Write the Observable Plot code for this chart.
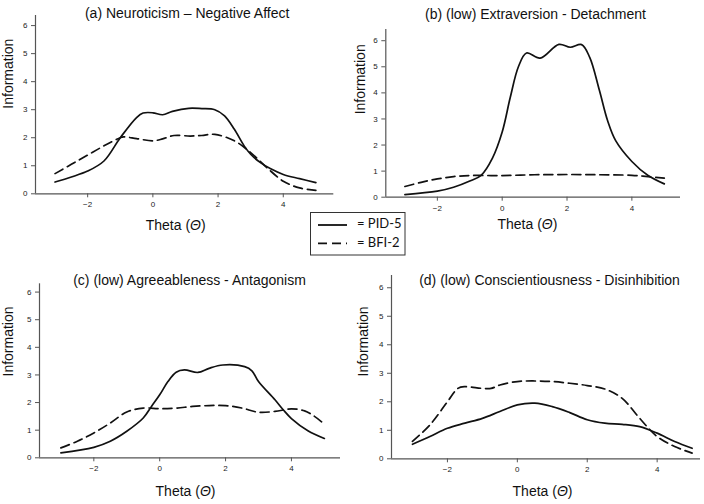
<!DOCTYPE html>
<html><head><meta charset="utf-8">
<script src="https://cdn.jsdelivr.net/npm/d3@7"></script>
<script src="https://cdn.jsdelivr.net/npm/@observablehq/plot@0.6"></script>
<style>
body{margin:0;background:#fff;}
#chart{position:relative;width:704px;height:504px;overflow:hidden;background:#fff;}
.panel{position:absolute;}
</style></head><body><div id="chart"></div>
<script>
// ---- data ----
const panelTitles = [
  "(a) Neuroticism – Negative Affect",
  "(b) (low) Extraversion - Detachment",
  "(c) (low) Agreeableness - Antagonism",
  "(d) (low) Conscientiousness - Disinhibition"
];
const seriesNames = ["PID-5", "BFI-2"];
const xTicks = [-2, 0, 2, 4];
const yTicks = [0, 1, 2, 3, 4, 5, 6];
const xLabel = "Theta (Θ)";
const yLabel = "Information";

// (a) Neuroticism
const thetaA_PID = [-3, -2.5, -2, -1.5, -1, -0.5, -0.3, 0, 0.3, 0.6, 1.1, 1.5, 1.9, 2.2, 2.5, 2.8, 3, 3.3, 3.6, 4, 4.5, 5];
const infoA_PID  = [0.42, 0.6, 0.81, 1.17, 2.0, 2.72, 2.88, 2.89, 2.82, 2.94, 3.05, 3.04, 3.0, 2.78, 2.3, 1.71, 1.41, 1.11, 0.9, 0.69, 0.54, 0.4];
const thetaA_BFI = [-3, -2.5, -2, -1.5, -1, -0.9, -0.5, 0, 0.3, 0.65, 1.15, 1.5, 1.9, 2.5, 3, 3.5, 4, 4.5, 5];
const infoA_BFI  = [0.72, 1.05, 1.38, 1.71, 2.0, 2.03, 1.97, 1.89, 1.96, 2.08, 2.06, 2.08, 2.12, 1.89, 1.47, 0.93, 0.45, 0.21, 0.12];

// (b) Extraversion
const thetaB_PID = [-3, -2, -1.5, -1, -0.65, -0.3, 0, 0.25, 0.5, 0.75, 1.17, 1.75, 2.1, 2.45, 2.7, 3, 3.25, 3.5, 4, 4.5, 5];
const infoB_PID  = [0.1, 0.23, 0.38, 0.62, 0.84, 1.5, 2.5, 3.83, 5.0, 5.53, 5.33, 5.86, 5.75, 5.85, 5.36, 4.09, 2.94, 2.17, 1.37, 0.83, 0.51];
const thetaB_BFI = [-3, -2.5, -2, -1.5, -1, 0, 1, 2, 3, 4, 4.5, 5];
const infoB_BFI  = [0.41, 0.57, 0.7, 0.79, 0.83, 0.83, 0.86, 0.87, 0.86, 0.84, 0.79, 0.73];

// (c) Agreeableness
const thetaC_PID = [-3, -2, -1.5, -1, -0.5, -0.25, 0, 0.25, 0.5, 0.75, 1.16, 1.5, 1.92, 2.58, 2.8, 3, 3.5, 3.75, 4, 4.5, 5];
const infoC_PID  = [0.18, 0.38, 0.6, 0.96, 1.44, 1.86, 2.28, 2.76, 3.1, 3.18, 3.09, 3.24, 3.36, 3.3, 3.15, 2.76, 2.1, 1.74, 1.42, 0.98, 0.7];
const thetaC_BFI = [-3, -2.5, -2, -1.5, -1, -0.5, 0, 0.5, 1, 1.5, 2, 2.5, 3, 3.5, 4, 4.4, 4.7, 5];
const infoC_BFI  = [0.36, 0.6, 0.9, 1.26, 1.66, 1.8, 1.78, 1.8, 1.86, 1.89, 1.89, 1.8, 1.65, 1.68, 1.77, 1.7, 1.5, 1.22];

// (d) Conscientiousness
const thetaD_PID = [-3, -2.5, -2, -1.5, -1, -0.5, 0, 0.5, 1, 1.5, 2, 2.5, 3, 3.5, 4, 4.5, 5];
const infoD_PID  = [0.51, 0.78, 1.07, 1.25, 1.42, 1.66, 1.89, 1.95, 1.83, 1.62, 1.37, 1.25, 1.21, 1.13, 0.9, 0.61, 0.37];
const thetaD_BFI = [-3, -2.5, -2, -1.7, -1.5, -1, -0.75, -0.5, 0, 0.5, 1, 1.5, 2, 2.5, 3, 3.5, 4, 4.5, 5];
const infoD_BFI  = [0.61, 1.19, 2.0, 2.47, 2.53, 2.47, 2.47, 2.59, 2.71, 2.73, 2.71, 2.65, 2.57, 2.45, 2.12, 1.42, 0.78, 0.43, 0.2];

// ---- layout ----
const layouts = [
  {left:0,   top:0,   w:352, h:250, mL:35,   mR:18.7, mT:15,   mB:56.7, xd:[-3.6,5.55],  yd:[0,6.36], t:[2.5,-7.7],  xl:[-9,35.7],  yl:[-26.5,4]},
  {left:352, top:0,   w:352, h:250, mL:33.3, mR:24,   mT:29,   mB:53.3, xd:[-3.59,5.5],  yd:[0,6.43], t:[2.3,-20.7], xl:[-5.7,31.3], yl:[-25.3,1]},
  {left:0,   top:250, w:352, h:254, mL:39,   mR:12,   mT:33.3, mB:46.7, xd:[-3.65,5.49], yd:[0,6.3],  t:[-0.5,-8.3], xl:[-4.5,37.7], yl:[-30.5,5.7]},
  {left:352, top:250, w:352, h:254, mL:39,   mR:4,    mT:25,   mB:45.7, xd:[-3.6,5.24],  yd:[0,6.43], t:[3.5,0],     xl:[-3.5,36.7], yl:[-28,9.3]}
];
const series = [
  [[thetaA_PID, infoA_PID], [thetaA_BFI, infoA_BFI]],
  [[thetaB_PID, infoB_PID], [thetaB_BFI, infoB_BFI]],
  [[thetaC_PID, infoC_PID], [thetaC_BFI, infoC_BFI]],
  [[thetaD_PID, infoD_PID], [thetaD_BFI, infoD_BFI]]
];
const toRows = ([th, inf], name) => th.map((t, i) => ({theta: t, info: inf[i], series: name}));

const chart = document.getElementById("chart");
const font = "'Liberation Sans', Arial, Helvetica, sans-serif";
const axisColor = "#555";
const fmtTick = d => d < 0 ? "\u2212" + Math.abs(d) : String(d);

layouts.forEach((L, k) => {
  const pid = toRows(series[k][0], seriesNames[0]);
  const bfi = toRows(series[k][1], seriesNames[1]);
  const p = Plot.plot({
    width: L.w, height: L.h,
    marginLeft: L.mL, marginRight: L.mR, marginTop: L.mT, marginBottom: L.mB,
    x: {domain: L.xd},
    y: {domain: L.yd},
    style: {fontFamily: font, fontSize: "8px", background: "white", color: "#222"},
    marks: [
      Plot.ruleY([0], {x1: L.xd[0], x2: L.xd[1], stroke: axisColor, strokeWidth: 1.2}),
      Plot.ruleX([L.xd[0]], {y1: 0, y2: L.yd[1], stroke: axisColor, strokeWidth: 1.2}),
      Plot.axisX({ticks: xTicks, tickFormat: fmtTick, tickSize: 4, tickPadding: 4, label: null, stroke: axisColor, fill: "#222"}),
      Plot.axisY({ticks: yTicks, tickFormat: fmtTick, tickSize: 4, tickPadding: 4, label: null, stroke: axisColor, fill: "#222"}),
      Plot.line(bfi, {x: "theta", y: "info", curve: "catmull-rom", stroke: "#111", strokeWidth: 1.7, strokeDasharray: "9,5"}),
      Plot.line(pid, {x: "theta", y: "info", curve: "catmull-rom", stroke: "#111", strokeWidth: 1.7}),
      Plot.text([panelTitles[k]], {text: d => d, frameAnchor: "top", dx: L.t[0], dy: L.t[1], fontSize: 14, fill: "#111"}),
      Plot.text([xLabel], {text: d => d, frameAnchor: "bottom", dx: L.xl[0], dy: L.xl[1], fontSize: 14, fill: "#111"}),
      Plot.text([yLabel], {text: d => d, frameAnchor: "left", dx: L.yl[0], dy: L.yl[1], rotate: -90, fontSize: 14, fill: "#111"})
    ]
  });
  p.classList.add("panel");
  p.style.left = L.left + "px";
  p.style.top = L.top + "px";
  chart.appendChild(p);
  // italic theta
  d3.select(p).selectAll("text").filter(function(){ return this.textContent === xLabel; })
    .each(function(){
      const t = d3.select(this);
      t.text(null);
      t.append("tspan").text("Theta (");
      t.append("tspan").attr("font-style", "italic").text("Θ");
      t.append("tspan").text(")");
    });
});

// ---- legend ----
const lg = d3.select(chart).append("svg")
  .attr("width", 96).attr("height", 44)
  .style("position", "absolute").style("left", "310px").style("top", "212px");
lg.append("rect").attr("x", 0.5).attr("y", 0.5).attr("width", 94.5).attr("height", 42.5)
  .attr("fill", "white").attr("stroke", "#333").attr("stroke-width", 1);
seriesNames.forEach((name, i) => {
  const y = 13 + i * 18.3;
  lg.append("line").attr("x1", 8).attr("x2", 37).attr("y1", y).attr("y2", y)
    .attr("stroke", "#111").attr("stroke-width", 1.8)
    .attr("stroke-dasharray", i === 0 ? null : "9,5");
  lg.append("text").attr("x", 47).attr("y", y).attr("dominant-baseline", "middle")
    .attr("font-family", "Lato, 'Open Sans', sans-serif").attr("font-size", 13).attr("fill", "#111")
    .text("= " + name);
});
</script></body></html>
